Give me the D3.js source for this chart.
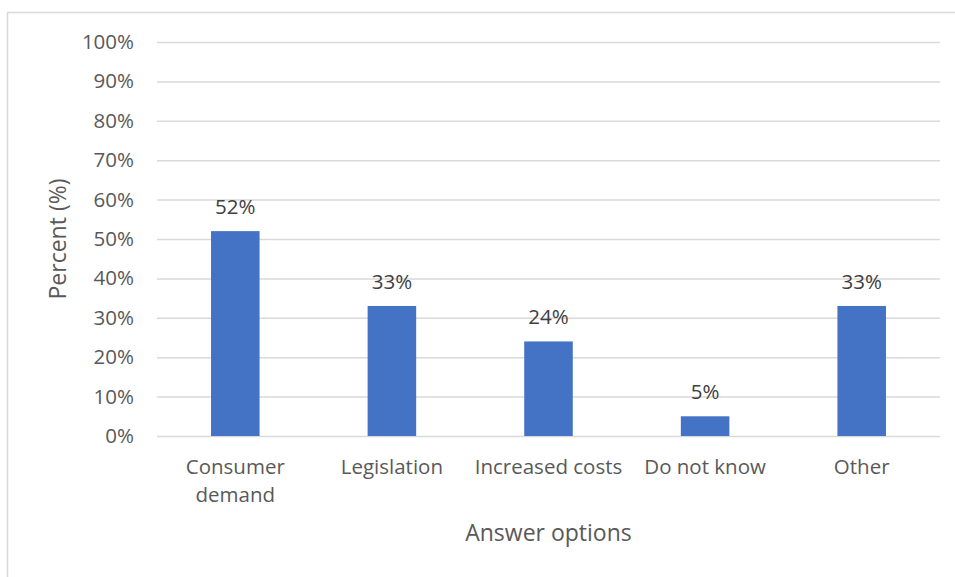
<!DOCTYPE html>
<html>
<head>
<meta charset="utf-8">
<script src="https://cdn.jsdelivr.net/npm/d3@7/dist/d3.min.js"></script>
<style>
  html, body { margin: 0; padding: 0; background: #ffffff; }
  svg { display: block; }
  text { font-family: "Open Sans", sans-serif; }
</style>
</head>
<body>
<svg id="chart" width="955" height="577"></svg>
<script>
// Survey answers and their shares (percent)
const categories = [["Consumer", "demand"], ["Legislation"], ["Increased costs"], ["Do not know"], ["Other"]];
const values = [52, 33, 24, 5, 33];
const yTicks = [0, 10, 20, 30, 40, 50, 60, 70, 80, 90, 100];
const yTitle = "Percent (%)";
const xTitle = "Answer options";

const svg = d3.select("#chart");
const W = 955, H = 577;
const plot = { left: 157, right: 940, top: 42, bottom: 436 };

// Light frame around the chart area
svg.append("rect")
  .attr("x", 7.5).attr("y", 12.5)
  .attr("width", W + 20).attr("height", H + 20)
  .attr("fill", "none").attr("stroke", "#d9d9d9").attr("stroke-width", 1.5);

const x = d3.scaleBand()
  .domain(d3.range(categories.length))
  .range([plot.left, plot.right])
  .paddingInner(0.69)
  .paddingOuter(0.345);

const y = d3.scaleLinear().domain([0, 100]).range([plot.bottom, plot.top]);

// Horizontal gridlines with percentage labels
const yAxis = d3.axisLeft(y)
  .tickValues(yTicks)
  .tickFormat(d => d + "%")
  .tickSize(-(plot.right - plot.left))
  .tickPadding(23);

const gy = svg.append("g")
  .attr("transform", `translate(${plot.left},0)`)
  .call(yAxis);
gy.select(".domain").remove();
gy.selectAll(".tick line").attr("stroke", "#d9d9d9").attr("stroke-width", 1.5);
gy.selectAll(".tick text")
  .attr("fill", "#595959")
  .style("font-size", "20.5px")
  .style("font-family", "'Open Sans', sans-serif");

// Bars
svg.append("g").selectAll("rect")
  .data(values)
  .join("rect")
  .attr("x", (d, i) => x(i))
  .attr("y", d => y(d))
  .attr("width", x.bandwidth())
  .attr("height", d => y(0) - y(d))
  .attr("fill", "#4472c4");

// Value labels above bars
svg.append("g").selectAll("text")
  .data(values)
  .join("text")
  .attr("x", (d, i) => x(i) + x.bandwidth() / 2)
  .attr("y", d => y(d) - 17)
  .attr("text-anchor", "middle")
  .attr("fill", "#404040")
  .style("font-size", "20.5px")
  .text(d => d + "%");

// Category labels (may wrap onto two lines)
const cat = svg.append("g").selectAll("text")
  .data(categories)
  .join("text")
  .attr("text-anchor", "middle")
  .attr("fill", "#595959")
  .style("font-size", "20.5px");
cat.each(function (lines, i) {
  const t = d3.select(this);
  lines.forEach((ln, k) => {
    t.append("tspan")
      .attr("x", x(i) + x.bandwidth() / 2)
      .attr("y", 474 + k * 28)
      .text(ln);
  });
});

// Axis titles
svg.append("text")
  .attr("x", (plot.left + plot.right) / 2)
  .attr("y", 541)
  .attr("text-anchor", "middle")
  .attr("fill", "#595959")
  .style("font-size", "23px")
  .text(xTitle);

svg.append("text")
  .attr("transform", `translate(66,${(plot.top + plot.bottom) / 2}) rotate(-90)`)
  .attr("text-anchor", "middle")
  .attr("fill", "#595959")
  .style("font-size", "23px")
  .text(yTitle);
</script>
</body>
</html>
